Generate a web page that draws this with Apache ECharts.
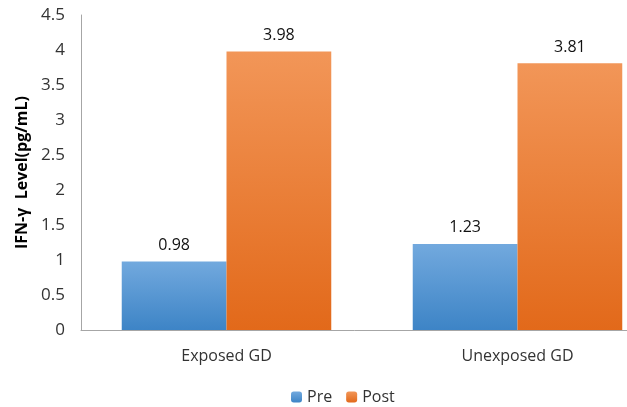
<html>
<head>
<meta charset="utf-8">
<script src="https://cdn.jsdelivr.net/npm/echarts@6/dist/echarts.min.js"></script>
</head>
<body style="margin:0">
<div id="main" style="width:627px;height:407px;"></div>
<script>
var categories = ['Exposed GD', 'Unexposed GD'];
var preValues = [0.98, 1.23];
var postValues = [3.98, 3.81];

function grad(top, bottom) {
  return new echarts.graphic.LinearGradient(0, 0, 0, 1, [
    { offset: 0, color: top },
    { offset: 1, color: bottom }
  ]);
}

var font = '"Open Sans", sans-serif';
var chart = echarts.init(document.getElementById('main'));
chart.setOption({
  animation: false,
  textStyle: { fontFamily: font },
  grid: { left: 81, top: 15, width: 582, height: 315, outerBoundsMode: 'none', containLabel: false },
  legend: {
    top: 384, left: 286,
    itemWidth: 11, itemHeight: 11, itemGap: 14,
    textStyle: { fontSize: 16, color: '#333' },
    data: ['Pre', 'Post']
  },
  xAxis: {
    type: 'category',
    data: categories,
    axisLine: { lineStyle: { color: '#a6a6a6' } },
    axisTick: { show: false },
    axisLabel: { fontSize: 16, color: '#333', margin: 18 }
  },
  yAxis: {
    type: 'value',
    min: 0, max: 4.5, interval: 0.5,
    name: 'IFN-γ  Level(pg/mL)',
    nameLocation: 'middle',
    nameGap: 46,
    nameTextStyle: { fontSize: 16, fontWeight: 'bold', color: '#000' },
    axisLine: { show: true, lineStyle: { color: '#a6a6a6' } },
    axisTick: { show: false },
    splitLine: { show: false },
    axisLabel: { fontSize: 17, color: '#333', margin: 16 }
  },
  series: [
    {
      name: 'Pre', type: 'bar', data: preValues,
      barGap: '0%', barCategoryGap: '28%',
      itemStyle: { color: grad('#72a9de', '#3d84c6') },
      label: { show: true, position: 'top', fontSize: 16, color: '#111', distance: 8 }
    },
    {
      name: 'Post', type: 'bar', data: postValues,
      itemStyle: { color: grad('#f29658', '#e2691a') },
      label: { show: true, position: 'top', fontSize: 16, color: '#111', distance: 8 }
    }
  ]
});
</script>
</body>
</html>
